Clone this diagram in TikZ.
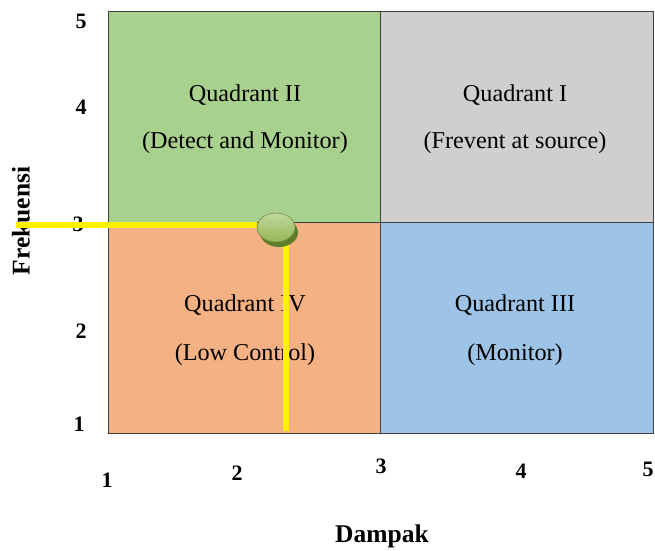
\documentclass[tikz,border=0pt]{standalone}
\usepackage{fontspec}
\setmainfont{Liberation Serif}
\usetikzlibrary{shapes.geometric}
\definecolor{qgreen}{HTML}{A9D18E}
\definecolor{qgray}{HTML}{D0CECE}
\definecolor{qorange}{HTML}{F4B183}
\definecolor{qblue}{HTML}{9DC3E6}
\definecolor{qedge}{HTML}{404040}
\definecolor{ballmid}{HTML}{96B856}
\definecolor{balltop}{HTML}{C2D99C}
\definecolor{ballshadow}{HTML}{5E7E2A}
\tikzset{
  quad/.style={draw=qedge, line width=1.4pt, rectangle, inner sep=0pt, anchor=north west},
  qtext/.style={font=\fontsize{24.2}{27}\selectfont, inner sep=0pt},
  tick/.style={font=\bfseries\fontsize{22}{25}\selectfont, inner sep=0pt},
  axlabel/.style={font=\bfseries\fontsize{25.5}{28}\selectfont, inner sep=0pt},
  guide/.style={draw=yellow, line width=6pt},
}
\begin{document}
\begin{tikzpicture}[x=1pt,y=-1pt]
  \useasboundingbox (0,0) rectangle (655,550);
  % quadrant boxes
  \node[quad, fill=qgreen, minimum width=272pt, minimum height=211pt] (q2) at (108,11) {};
  \node[quad, fill=qgray, minimum width=273pt, minimum height=211pt] (q1) at (380,11) {};
  \node[quad, fill=qorange, minimum width=272pt, minimum height=211pt] (q4) at (108,222) {};
  \node[quad, fill=qblue, minimum width=273pt, minimum height=211pt] (q3) at (380,222) {};
  % quadrant captions
  \node[qtext] (t2a) at (245,95) {Quadrant II};
  \node[qtext] (t2b) at (245,143) {(Detect and Monitor)};
  \node[qtext] (t1a) at (515,95) {Quadrant I};
  \node[qtext] (t1b) at (515,143) {(Frevent at source)};
  \node[qtext] (t4a) at (245,305) {Quadrant IV};
  \node[qtext] (t4b) at (245,355) {(Low Control)};
  \node[qtext] (t3a) at (515,305) {Quadrant III};
  \node[qtext] (t3b) at (515,355) {(Monitor)};
  % vertical axis ticks
  \node[tick] (y5) at (81,21) {5};
  \node[tick] (y4) at (81,107) {4};
  \node[tick] (y3) at (78,224) {3};
  \node[tick] (y2) at (81,331) {2};
  \node[tick] (y1) at (79,424) {1};
  % horizontal axis ticks
  \node[tick] (x1) at (107,480) {1};
  \node[tick] (x2) at (237,473) {2};
  \node[tick] (x3) at (381,466) {3};
  \node[tick] (x4) at (521,471) {4};
  \node[tick] (x5) at (648,469) {5};
  % axis titles
  \node[axlabel] (xl) at (382,536) {Dampak};
  \node[axlabel, rotate=90] (yl) at (21,221) {Frekuensi};
  % guide lines to the marked point
  \coordinate (hstart) at (16,225);
  \coordinate (vend) at (286,431);
  \node[ellipse, minimum width=38pt, minimum height=29pt, inner sep=0pt] (pt) at (276,227.5) {};
  \draw[guide] (hstart) -- (hstart -| pt.west);
  \draw[guide] (vend |- pt.south) -- (vend);
  % marked point
  \fill[ballshadow] ([shift={(3,5)}]pt.center) ellipse (19pt and 14.5pt);
  \shade[top color=balltop, bottom color=ballmid, middle color=ballmid!80!white]
    (pt.center) ellipse (19pt and 14.5pt);
  \draw[ballmid!75!black, line width=0.6pt] (pt.center) ellipse (19pt and 14.5pt);
\end{tikzpicture}
\end{document}
